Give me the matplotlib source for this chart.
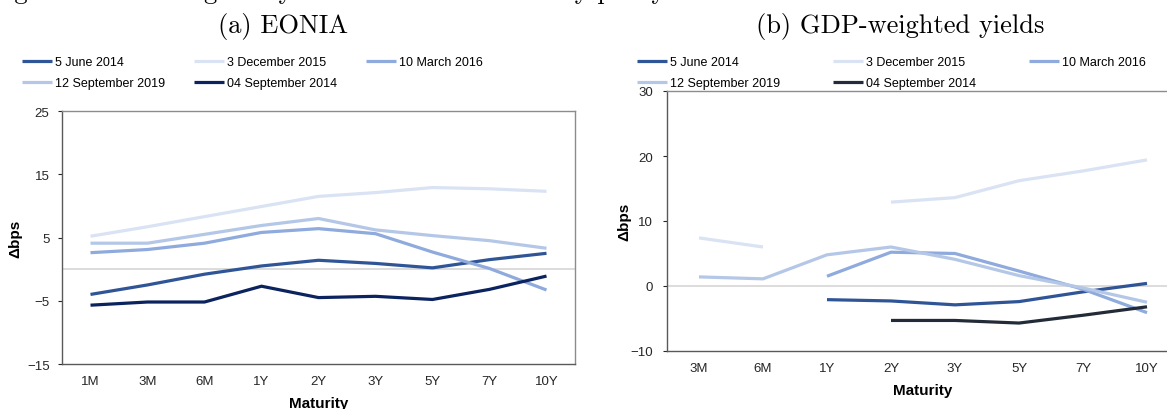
import numpy as np
import matplotlib
matplotlib.use("Agg")
import matplotlib.pyplot as plt
from matplotlib.lines import Line2D

plt.rcParams["font.family"] = ["Liberation Sans", "DejaVu Sans"]

# ---- data -------------------------------------------------------------
dates = ["5 June 2014", "3 December 2015", "10 March 2016",
         "12 September 2019", "04 September 2014"]

# (a) EONIA forward curve changes, basis points
eonia_maturities = ["1M", "3M", "6M", "1Y", "2Y", "3Y", "5Y", "7Y", "10Y"]
eonia_jun2014 = [-4.0, -2.5, -0.8, 0.5, 1.4, 0.9, 0.2, 1.5, 2.5]
eonia_dec2015 = [5.2, 6.7, 8.3, 9.9, 11.5, 12.1, 12.9, 12.7, 12.3]
eonia_mar2016 = [2.6, 3.1, 4.1, 5.8, 6.4, 5.6, 2.7, 0.1, -3.3]
eonia_sep2019 = [4.1, 4.1, 5.5, 6.9, 8.0, 6.2, 5.3, 4.5, 3.3]
eonia_sep2014 = [-5.7, -5.2, -5.2, -2.7, -4.5, -4.3, -4.8, -3.2, -1.1]

# (b) GDP-weighted sovereign yield changes, basis points
gdp_maturities = ["3M", "6M", "1Y", "2Y", "3Y", "5Y", "7Y", "10Y"]
gdp_jun2014 = [np.nan, np.nan, -2.1, -2.3, -2.9, -2.4, -0.9, 0.4]
gdp_dec2015 = [7.4, 6.0, np.nan, 12.9, 13.6, 16.2, 17.7, 19.4]
gdp_mar2016 = [np.nan, np.nan, 1.5, 5.2, 5.0, 2.3, -0.5, -4.1]
gdp_sep2019 = [1.4, 1.1, 4.8, 6.0, 4.1, 1.6, -0.3, -2.5]
gdp_sep2014 = [np.nan, np.nan, np.nan, -5.3, -5.3, -5.7, -4.5, -3.2]

eonia_ticks = [-15, -5, 5, 15, 25]
gdp_ticks = [-10, 0, 10, 20, 30]

# ---- styling ----------------------------------------------------------
colors_a = ["#2F5597", "#DAE3F3", "#8FAADC", "#B4C7E7", "#0B235E"]
colors_b = ["#2F5597", "#DAE3F3", "#8FAADC", "#B4C7E7", "#232B38"]
LW = 2.3

W, H = 1167, 410
fig = plt.figure(figsize=(W / 100, H / 100), dpi=100)


def px_rect(x0, y0, x1, y1):
    return [x0 / W, 1 - y1 / H, (x1 - x0) / W, (y1 - y0) / H]


def style_axes(ax, cats, ticks, ylim):
    ax.set_xlim(-0.5, len(cats) - 0.5)
    ax.set_ylim(*ylim)
    ax.set_xticks(np.arange(len(cats)))
    ax.set_xticklabels(cats)
    ax.set_yticks(ticks)
    ax.axhline(0, color="#d9d9d9", lw=1.3, zorder=1)
    ax.tick_params(axis="x", length=0, pad=8, labelsize=9.5, colors="#262626")
    ax.tick_params(axis="y", length=3, width=0.8, pad=6, labelsize=9.5,
                   colors="#262626")
    for side in ("left", "bottom"):
        ax.spines[side].set_color("#595959")
        ax.spines[side].set_linewidth(1.0)
    for side in ("top", "right"):
        ax.spines[side].set_color("#8c8c8c")
        ax.spines[side].set_linewidth(1.0)
    ax.set_xlabel("Maturity", fontsize=11, fontweight="bold", labelpad=6.5)
    ax.set_ylabel("\u0394bps", fontsize=11, fontweight="bold")


# (a) EONIA
ax1 = fig.add_axes(px_rect(62, 112, 575, 365))
series_a = [eonia_jun2014, eonia_dec2015, eonia_mar2016, eonia_sep2019,
            eonia_sep2014]
xa = np.arange(len(eonia_maturities))
for vals, c in zip(series_a, colors_a):
    ax1.plot(xa, vals, color=c, lw=LW, solid_capstyle="butt", zorder=3)
style_axes(ax1, eonia_maturities, eonia_ticks, (-15, 25))
ax1.yaxis.set_label_coords(-0.078, 0.5)

# (b) GDP-weighted yields
ax2 = fig.add_axes(px_rect(667, 92, 1179, 352))
series_b = [gdp_jun2014, gdp_dec2015, gdp_mar2016, gdp_sep2019, gdp_sep2014]
xb = np.arange(len(gdp_maturities))
for vals, c in zip(series_b, colors_b):
    ax2.plot(xb, vals, color=c, lw=LW, solid_capstyle="butt", zorder=3)
style_axes(ax2, gdp_maturities, gdp_ticks, (-10, 30))
ax2.tick_params(axis="y", pad=7)
ax2.yaxis.set_label_coords(-0.070, 0.5)


def add_legend(colors, x_px, y_px, colspace):
    handles = [Line2D([], [], color=c, lw=LW, solid_capstyle="butt")
               for c in colors]
    # legend fills column by column; reorder so entries read across rows
    order = [0, 3, 1, 4, 2]
    fig.legend([handles[i] for i in order], [dates[i] for i in order],
               ncol=3, loc="upper left",
               bbox_to_anchor=(x_px / W, 1 - y_px / H),
               frameon=False, fontsize=9, handlelength=2.4,
               handletextpad=0.25, columnspacing=colspace,
               labelspacing=0.71, borderpad=0, borderaxespad=0)


add_legend(colors_a, 22, 57, 2.3)
add_legend(colors_b, 637, 57, 4.2)

# panel titles
fig.text(283 / W, 1 - 33 / H, "(a) EONIA", family="cmr10", fontsize=19,
         ha="center", va="baseline")
fig.text(900 / W, 1 - 33 / H, "(b) GDP-weighted yields", family="cmr10",
         fontsize=19, ha="center", va="baseline")

# figure caption line above the panels
fig.text(-10 / W, 1 + 1.0 / H,
         "Figure A.14: Changes in yields after ECB monetary policy announcements",
         family="cmr10", fontsize=19, ha="left", va="baseline")

fig.savefig("out.png", dpi=100)
